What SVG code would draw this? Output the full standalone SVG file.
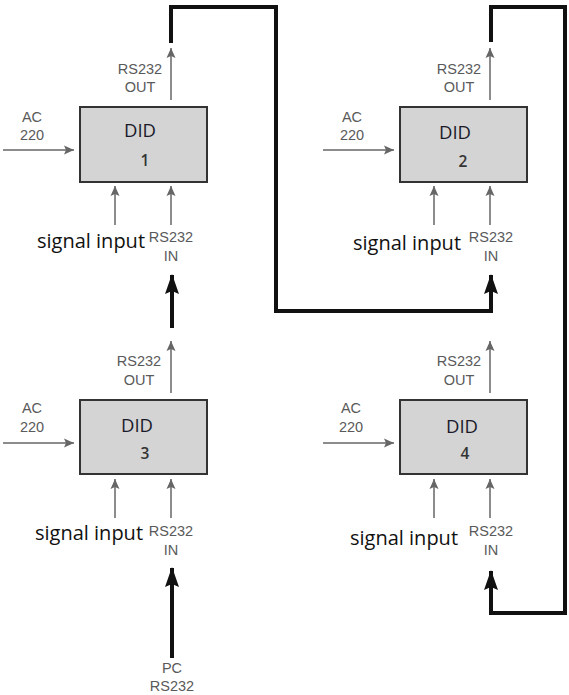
<svg xmlns="http://www.w3.org/2000/svg" width="569" height="695" viewBox="0 0 569 695">
<defs>
<style>
.box{fill:#d4d4d4;stroke:#333;stroke-width:2}
.did{font-family:"Open Sans","Liberation Sans",sans-serif;font-size:18.5px;fill:#1a1a2a;text-anchor:middle}
.num{font-family:"Open Sans","Liberation Sans",sans-serif;font-size:15.5px;font-weight:600;fill:#333;text-anchor:middle}
.lbl{font-family:"Liberation Sans",Arial,sans-serif;font-size:14.5px;fill:#5a5a5a;text-anchor:middle}
.sig{font-family:"Open Sans","Liberation Sans",sans-serif;font-size:20px;fill:#111}
.thin{stroke:#666;stroke-width:1.5;fill:none;marker-end:url(#ah)}
.thickA{stroke:#111;stroke-width:4;fill:none;marker-end:url(#bh)}
</style>
<marker id="ah" viewBox="0 0 10 10" refX="10" refY="5" markerWidth="10" markerHeight="10" markerUnits="userSpaceOnUse" orient="auto">
<path d="M0,0.5 L10,5 L0,9.5 L2,5 Z" fill="#666"/>
</marker>
<marker id="bh" viewBox="0 0 20 14" refX="19" refY="7" markerWidth="20" markerHeight="14" markerUnits="userSpaceOnUse" orient="auto">
<path d="M0,0 L20,7 L0,14 L3,7 Z" fill="#111"/>
</marker>
</defs>

<g id="connectors">
<line class="thin" x1="3" y1="150" x2="74" y2="150"/>
<line class="thin" x1="171" y1="100" x2="171" y2="48"/>
<line class="thin" x1="115" y1="225" x2="115" y2="186"/>
<line class="thin" x1="171" y1="225" x2="171" y2="186"/>

<line class="thin" x1="323" y1="150" x2="394" y2="150"/>
<line class="thin" x1="490" y1="100" x2="490" y2="48"/>
<line class="thin" x1="434" y1="225" x2="434" y2="186"/>
<line class="thin" x1="490" y1="225" x2="490" y2="186"/>

<line class="thin" x1="3" y1="443" x2="74" y2="443"/>
<line class="thin" x1="171" y1="393" x2="171" y2="341"/>
<line class="thin" x1="115" y1="518" x2="115" y2="479"/>
<line class="thin" x1="171" y1="518" x2="171" y2="479"/>

<line class="thin" x1="323" y1="443" x2="394" y2="443"/>
<line class="thin" x1="490" y1="393" x2="490" y2="341"/>
<line class="thin" x1="434" y1="518" x2="434" y2="479"/>
<line class="thin" x1="490" y1="518" x2="490" y2="479"/>

<polyline class="thickA" points="171,43 171,7 276,7 276,311 491,311 491,275"/>
<polyline class="thickA" points="491,42 491,7 565,7 565,613 491,613 491,571"/>
<line class="thickA" x1="172" y1="328" x2="172" y2="275"/>
<line class="thickA" x1="172" y1="658" x2="172" y2="568"/>
</g>

<g id="did1">
<rect class="box" x="80" y="107" width="127" height="75"/>
<text class="did" x="140" y="137">DID</text>
<text class="num" x="145" y="166">1</text>
<text class="lbl" x="140" y="74">RS232</text>
<text class="lbl" x="140" y="92">OUT</text>
<text class="lbl" x="32" y="122">AC</text>
<text class="lbl" x="32" y="140">220</text>
<text class="sig" x="37" y="248">signal input</text>
<text class="lbl" x="171" y="242">RS232</text>
<text class="lbl" x="171" y="261">IN</text>
</g>

<g id="did2">
<rect class="box" x="400" y="107" width="127" height="75"/>
<text class="did" x="455" y="139">DID</text>
<text class="num" x="463" y="167">2</text>
<text class="lbl" x="459" y="74">RS232</text>
<text class="lbl" x="459" y="92">OUT</text>
<text class="lbl" x="352" y="122">AC</text>
<text class="lbl" x="352" y="140">220</text>
<text class="sig" x="353" y="250">signal input</text>
<text class="lbl" x="491" y="242">RS232</text>
<text class="lbl" x="491" y="261">IN</text>
</g>

<g id="did3">
<rect class="box" x="80" y="400" width="127" height="74"/>
<text class="did" x="137" y="432">DID</text>
<text class="num" x="145" y="459">3</text>
<text class="lbl" x="139" y="366">RS232</text>
<text class="lbl" x="139" y="385">OUT</text>
<text class="lbl" x="32" y="413">AC</text>
<text class="lbl" x="32" y="432">220</text>
<text class="sig" x="35" y="540">signal input</text>
<text class="lbl" x="171" y="536">RS232</text>
<text class="lbl" x="171" y="555">IN</text>
<text class="lbl" x="172" y="673">PC</text>
<text class="lbl" x="172" y="691">RS232</text>
</g>

<g id="did4">
<rect class="box" x="400" y="400" width="127" height="74"/>
<text class="did" x="462" y="433">DID</text>
<text class="num" x="465" y="459">4</text>
<text class="lbl" x="459" y="366">RS232</text>
<text class="lbl" x="459" y="385">OUT</text>
<text class="lbl" x="351" y="413">AC</text>
<text class="lbl" x="351" y="432">220</text>
<text class="sig" x="350" y="545">signal input</text>
<text class="lbl" x="491" y="536">RS232</text>
<text class="lbl" x="491" y="555">IN</text>
</g>
</svg>
